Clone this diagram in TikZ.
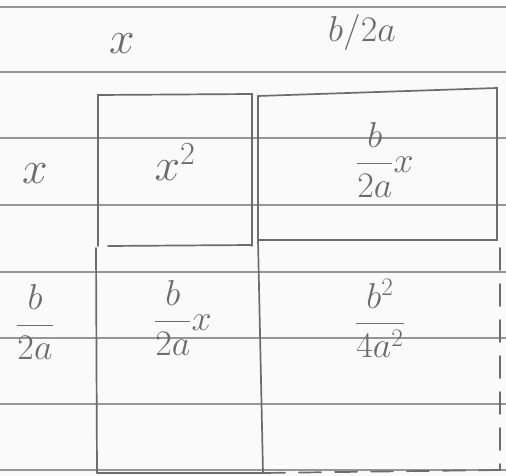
\RequirePackage{fix-cm}
\documentclass[tikz,border=0pt]{standalone}
\usepackage{amsmath}
\usepackage{xcolor}
\usetikzlibrary{positioning}
\definecolor{paper}{RGB}{250,250,250}
\definecolor{inkgray}{RGB}{108,108,108}
\definecolor{rulegray}{RGB}{150,150,150}

\begin{document}
\begin{tikzpicture}[
  x=1pt, y=-1pt,
  rule/.style={draw=rulegray, line width=1.1pt},
  ink/.style={draw=inkgray, line width=1.7pt, line cap=round},
  inkdash/.style={ink, dash pattern=on 22pt off 14pt},
  hand/.style={text=inkgray, inner sep=0pt, font=\fontsize{36}{42}\selectfont},
  handbig/.style={hand, font=\fontsize{46}{52}\selectfont}
]
  \fill[paper] (0,0) rectangle (506,476);
  \useasboundingbox (0,0) rectangle (506,476);

  % Ruled lines of the paper.
  \foreach \y in {7,72,138,205,272,338,404,470}
    \draw[rule] (0,\y) -- (506,\y);

  % Top squares.
  \draw[ink] (98,246) -- (98,95) -- (252,94) -- (252,246);
  \draw[ink] (108,246) -- (252,245);
  \draw[ink] (258,96) -- (497,88) -- (497,240) -- (258,240);
  % Lower strips.
  \draw[ink] (96,248) -- (97,473);
  \draw[ink] (258,96) -- (258,240) -- (263,473);
  \draw[ink] (97,473) -- (263,473);
  \draw[inkdash] (263,473) -- (500,470);
  \draw[inkdash] (500,248) -- (500,470);

  % Side lengths.
  \node[handbig] (xtop) at (122,44) {$x$};
  \node[hand] (halftop) at (362,33) {$b/2a$};
  \node[handbig] (xleft) at (35,174) {$x$};
  \node[hand] (halfleft) at (35,322) {$\dfrac{b}{2a}$};

  % Areas.
  \node[handbig] (sqx) at (175,162) {$x^2$};
  \node[hand] (rectx) at (385,160) {$\dfrac{b}{2a}x$};
  \node[hand] (rectxb) at (183,318) {$\dfrac{b}{2a}x$};
  \node[hand] (sqhalf) at (380,318) {$\dfrac{b^2}{4a^2}$};
\end{tikzpicture}
\end{document}
